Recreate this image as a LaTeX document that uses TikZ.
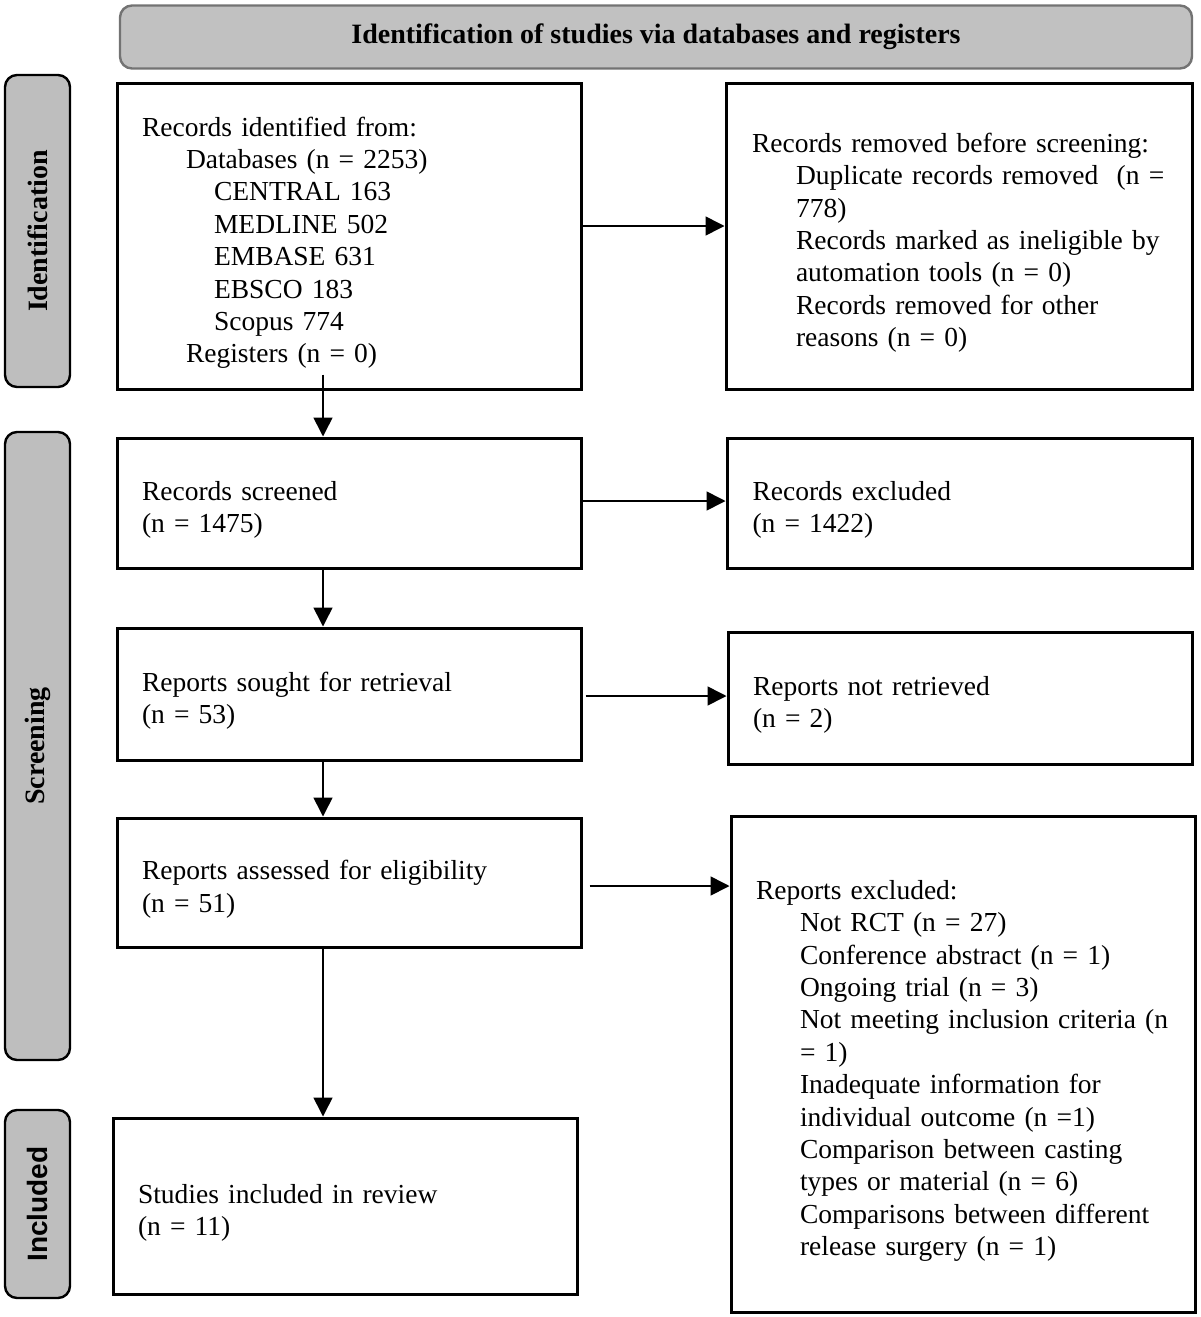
\documentclass[tikz,border=0pt]{standalone}
\usepackage{fontspec}
\setmainfont{Liberation Serif}
\newfontfamily\sansbold{Liberation Sans}
\usetikzlibrary{arrows.meta,calc}
\definecolor{sidegray}{RGB}{190,190,190}
\definecolor{hdrgray}{RGB}{193,193,193}
\definecolor{hdrline}{RGB}{115,115,115}
\newcommand{\ia}{\hspace*{22pt}}
\newcommand{\ib}{\hspace*{36pt}}
\newcommand{\tl}[1]{\mbox{#1}}
\newcommand{\mytopgap}{\rule{0pt}{16.5pt}}
\newcommand{\boxfont}{\fontsize{13.75}{16.2}\selectfont\spaceskip=0.22em plus 0.1em minus 0.05em\relax}
\begin{document}
\begin{tikzpicture}[x=0.5pt,y=-0.5pt,
  box/.style={draw=black,line width=1.5pt,fill=white,align=left,inner xsep=12.5pt,inner ysep=0pt,
    text width=207pt,font=\boxfont,anchor=center},
  side/.style={draw=black,line width=1.2pt,fill=sidegray,rounded corners=6pt,rotate=90,
    minimum height=32.5pt,inner sep=0pt,anchor=center},
  arr/.style={line width=0.8pt,-{Triangle[length=9.5pt,width=9.5pt]}}]
\useasboundingbox (0,0) rectangle (1200,1317);

% header
\node[draw=hdrline,line width=1.2pt,fill=hdrgray,rounded corners=6pt,minimum width=536pt,
  minimum height=31.5pt,inner sep=0pt,font=\bfseries\fontsize{14}{16}\selectfont] (hdr) at (656,37)
  {Identification of studies via databases and registers};

% side labels
\node[side,minimum width=156pt,font=\bfseries\fontsize{14}{16}\selectfont] (sid) at (37.5,231) {Identification};
\node[side,minimum width=314pt,font=\bfseries\fontsize{14}{16}\selectfont] (sscr) at (37.5,746) {Screening};
\node[side,minimum width=94pt,font=\sansbold\bfseries\fontsize{14}{16}\selectfont] (sinc) at (37.5,1204) {Included};

% boxes
\node[box,minimum width=232pt,minimum height=153pt] (ident) at (349,236)
{\tl{\mytopgap Records identified from:}\\
\tl{\ia Databases (n = 2253)}\\
\tl{\ib CENTRAL 163}\\
\tl{\ib MEDLINE 502}\\
\tl{\ib EMBASE 631}\\
\tl{\ib EBSCO 183}\\
\tl{\ib Scopus 774}\\
\tl{\ia Registers (n = 0)}};

\node[box,minimum width=233pt,minimum height=153pt] (removed) at (959,236)
{\tl{\mytopgap Records removed before screening:}\\
\tl{\ia Duplicate records removed\ \ (n =}\\
\tl{\ia 778)}\\
\tl{\ia Records marked as ineligible by}\\
\tl{\ia automation tools (n = 0)}\\
\tl{\ia Records removed for other}\\
\tl{\ia reasons (n = 0)}};

\node[box,minimum width=232pt,minimum height=65pt] (screened) at (349,503)
{\mytopgap Records screened\\(n = 1475)};

\node[box,minimum width=232.5pt,minimum height=65pt] (excluded) at (959.5,503)
{\mytopgap Records excluded\\(n = 1422)};

\node[box,minimum width=232pt,minimum height=66pt] (sought) at (349,694)
{\mytopgap Reports sought for retrieval\\(n = 53)};

\node[box,minimum width=232pt,minimum height=66pt] (notret) at (960,698)
{\mytopgap Reports not retrieved\\(n = 2)};

\node[box,minimum width=232pt,minimum height=64.5pt] (assessed) at (349,882.5)
{\mytopgap Reports assessed for eligibility\\(n = 51)};

\node[box,minimum width=232pt,minimum height=248pt] (repexcl) at (963,1064)
{\tl{\mytopgap Reports excluded:}\\
\tl{\ia Not RCT (n = 27)}\\
\tl{\ia Conference abstract (n = 1)}\\
\tl{\ia Ongoing trial (n = 3)}\\
\tl{\ia Not meeting inclusion criteria (n}\\
\tl{\ia = 1)}\\
\tl{\ia Inadequate information for}\\
\tl{\ia individual outcome (n =1)}\\
\tl{\ia Comparison between casting}\\
\tl{\ia types or material (n = 6)}\\
\tl{\ia Comparisons between different}\\
\tl{\ia release surgery (n = 1)}};

\node[box,minimum width=232pt,minimum height=88pt] (included) at (345,1206)
{\mytopgap Studies included in review\\(n = 11)};

% vertical arrows
\coordinate (vx) at (323,0);
\draw[arr] ($(ident.south -| vx)+(0,-16)$) -- (screened.north -| vx);
\draw[arr] (screened.south -| vx) -- (sought.north -| vx);
\draw[arr] (sought.south -| vx) -- (assessed.north -| vx);
\draw[arr] (assessed.south -| vx) -- (included.north -| vx);

% horizontal arrows
\coordinate (h1) at ($(ident.east)+(0,-10)$);
\draw[arr] (h1) -- (h1 -| removed.west);
\coordinate (h2) at ($(screened.east)+(0,-2)$);
\draw[arr] (h2) -- (h2 -| excluded.west);
\coordinate (h3) at ($(sought.east)+(3,2)$);
\draw[arr] (h3) -- (h3 -| notret.west);
\coordinate (h4) at ($(assessed.east)+(7,3.5)$);
\draw[arr] (h4) -- (h4 -| repexcl.west);
\end{tikzpicture}
\end{document}
